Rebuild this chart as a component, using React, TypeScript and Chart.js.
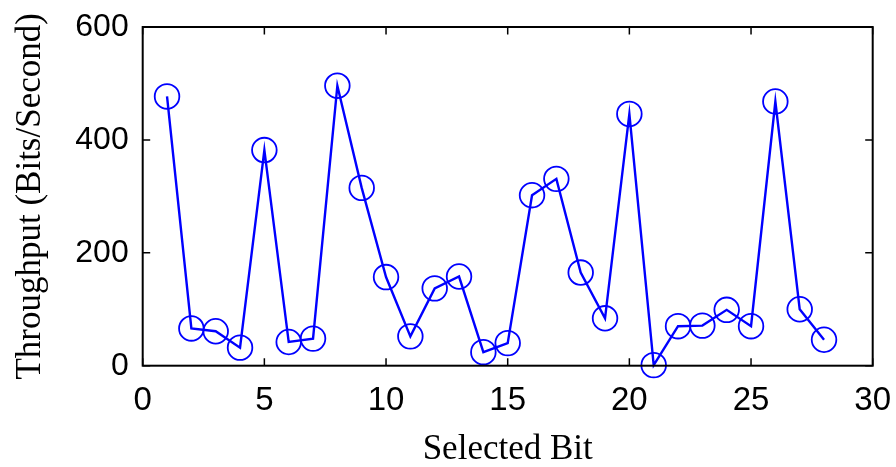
import React, { useEffect, useRef } from "react";
import { Chart, registerables } from "chart.js";

Chart.register(...registerables);

const bits: number[] = [1, 2, 3, 4, 5, 6, 7, 8, 9, 10, 11, 12, 13, 14, 15, 16, 17, 18, 19, 20, 21, 22, 23, 24, 25, 26, 27, 28];
const throughput: number[] = [477, 66, 61, 32, 382, 42, 48, 496, 315, 157, 52, 137, 158, 24, 40, 302, 331, 165, 84, 446, 1, 70, 71, 99, 70, 468, 100, 46];
const xTicks: number[] = [0, 5, 10, 15, 20, 25, 30];
const yTicks: number[] = [0, 200, 400, 600];
const xTitle = "Selected Bit";
const yTitle = "Throughput (Bits/Second)";

const W = 896;
const H = 467;
const AREA = { left: 142.7, top: 27, right: 872.7, bottom: 365.7 };

const boxPlugin = {
  id: "matlabBox",
  afterDraw(chart: any) {
    const { ctx, chartArea } = chart;
    const xs = chart.scales.x;
    const ys = chart.scales.y;
    const { left, top, right, bottom } = chartArea;
    ctx.save();
    ctx.strokeStyle = "#000000";
    ctx.lineWidth = 2;
    ctx.strokeRect(left, top, right - left, bottom - top);
    ctx.lineWidth = 1.5;
    const tl = 7.5;
    ctx.beginPath();
    xTicks.forEach((v) => {
      const px = xs.getPixelForValue(v);
      ctx.moveTo(px, bottom);
      ctx.lineTo(px, bottom - tl);
      ctx.moveTo(px, top);
      ctx.lineTo(px, top + tl);
    });
    yTicks.forEach((v) => {
      const py = ys.getPixelForValue(v);
      ctx.moveTo(left, py);
      ctx.lineTo(left + tl, py);
      ctx.moveTo(right, py);
      ctx.lineTo(right - tl, py);
    });
    ctx.stroke();
    ctx.restore();
  },
};

const zeroPad = (s: any) => {
  s.paddingTop = 0;
  s.paddingBottom = 0;
  s.paddingLeft = 0;
  s.paddingRight = 0;
};

export default function App() {
  const ref = useRef<HTMLCanvasElement | null>(null);

  useEffect(() => {
    if (!ref.current) return;
    const chart = new Chart(ref.current, {
      type: "line",
      data: {
        datasets: [
          {
            data: bits.map((b, i) => ({ x: b, y: throughput[i] })),
            borderColor: "#0000ff",
            borderWidth: 2.4,
            backgroundColor: "rgba(0,0,0,0)",
            pointStyle: "circle",
            pointRadius: 12.3,
            pointHoverRadius: 12.3,
            pointBorderWidth: 1.8,
            pointBorderColor: "#0000ff",
            pointBackgroundColor: "rgba(0,0,0,0)",
            tension: 0,
            fill: false,
            clip: false as any,
          },
        ],
      },
      options: {
        responsive: false,
        animation: false,
        events: [],
        layout: {
          padding: { left: 0, top: AREA.top, right: W - AREA.right, bottom: 0 },
        },
        plugins: {
          legend: { display: false },
          tooltip: { enabled: false },
        },
        scales: {
          x: {
            type: "linear",
            min: 0,
            max: 30,
            afterFit: (s: any) => {
              s.height = H - AREA.bottom;
              zeroPad(s);
            },
            afterBuildTicks: (s: any) => {
              s.ticks = xTicks.map((v) => ({ value: v }));
            },
            grid: { display: false, drawTicks: false },
            border: { display: false },
            ticks: {
              color: "#000000",
              padding: 15,
              maxRotation: 0,
              autoSkip: false,
              font: { family: "'Liberation Sans', Arial, sans-serif", size: 33, lineHeight: 1.2 },
            },
            title: {
              display: true,
              text: xTitle,
              color: "#000000",
              padding: { top: 0, bottom: 0 },
              font: { family: "'Liberation Serif', 'Times New Roman', serif", size: 35, lineHeight: 1 },
            },
          },
          y: {
            type: "linear",
            min: 0,
            max: 600,
            afterFit: (s: any) => {
              s.width = AREA.left;
              zeroPad(s);
            },
            afterBuildTicks: (s: any) => {
              s.ticks = yTicks.map((v) => ({ value: v }));
            },
            grid: { display: false, drawTicks: false },
            border: { display: false },
            ticks: {
              color: "#000000",
              padding: 14,
              autoSkip: false,
              font: { family: "'Liberation Sans', Arial, sans-serif", size: 32, lineHeight: 1.2 },
            },
            title: {
              display: true,
              text: yTitle,
              color: "#000000",
              padding: { top: 13, bottom: 0 },
              font: { family: "'Liberation Serif', 'Times New Roman', serif", size: 35, lineHeight: 1 },
            },
          },
        },
      },
      plugins: [boxPlugin],
    });
    return () => chart.destroy();
  }, []);

  return (
    <div style={{ position: "absolute", left: 0, top: 0, width: W, height: H, background: "#ffffff" }}>
      <canvas ref={ref} width={W} height={H} style={{ width: W, height: H, display: "block" }} />
    </div>
  );
}
